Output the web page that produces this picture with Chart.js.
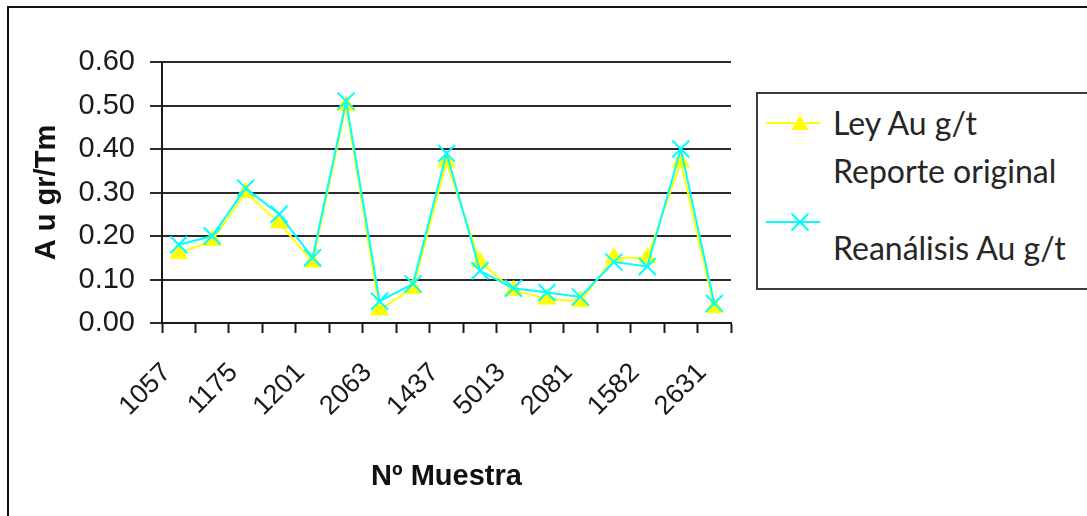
<!DOCTYPE html>
<html>
<head>
<meta charset="utf-8">
<title>Ley Au - Reanálisis</title>
<script src="https://cdn.jsdelivr.net/npm/chart.js@4.4.1/dist/chart.umd.min.js"></script>
<style>
  html, body { margin: 0; padding: 0; background: #fff; overflow: hidden; }
  #stage { position: relative; width: 1087px; height: 516px; overflow: hidden; background: #fff; }
  #frame { position: absolute; left: 7px; top: 6px; width: 1200px; height: 600px; border: 2px solid #111; }
  #plot { position: absolute; left: 0; top: 0; width: 1087px; height: 516px; }
  #key { position: absolute; left: 756px; top: 92px; width: 400px; height: 198px; box-sizing: border-box;
         border: 2px solid #3c3c3c; background: #fff;
         font-family: Lato, "Open Sans", sans-serif; font-size: 32px; color: #262626; }
  #key .lbl { position: absolute; left: 75px; line-height: 48px; white-space: nowrap; }
  #key svg { position: absolute; left: 8px; top: 0; }
</style>
</head>
<body>
<div id="stage">
  <div id="frame"></div>
  <div id="plot"><canvas id="chart"></canvas></div>
  <div id="key"></div>
</div>
<script>
// Sample numbers along the x axis (only every other sample is labelled)
const categories = ['1057', '', '1175', '', '1201', '', '2063', '', '1437', '',
                    '5013', '', '2081', '', '1582', '', '2631'];

// Gold grade, original lab report (g/t)
const leyOriginal = [0.16, 0.19, 0.30, 0.23, 0.14, 0.50, 0.03, 0.08, 0.37, 0.14,
                     0.075, 0.055, 0.05, 0.15, 0.15, 0.37, 0.035];

// Gold grade, re-analysis (g/t)
const reanalisis = [0.18, 0.20, 0.31, 0.25, 0.15, 0.51, 0.05, 0.09, 0.39, 0.12,
                    0.08, 0.07, 0.06, 0.14, 0.13, 0.40, 0.045];

// Legend names, one entry per line of text
const leyName = ['Ley Au g/t', 'Reporte original'];
const reName = ['Reanálisis Au g/t'];

const yMin = 0, yMax = 0.6, yStep = 0.1;
const yTitle = 'A u gr/Tm';
const xTitle = 'Nº Muestra';

const YELLOW = '#FFFF00';
const CYAN = '#00FFFF';
const AXIS_FONT = "'Liberation Sans', Arial, sans-serif";

const chart = new Chart(document.getElementById('chart'), {
  type: 'line',
  data: {
    labels: categories,
    datasets: [
      {
        label: leyName.join(' '),
        data: leyOriginal,
        borderColor: YELLOW,
        backgroundColor: YELLOW,
        borderWidth: 2,
        pointStyle: 'triangle',
        pointRadius: 10,
        pointBorderWidth: 1,
        pointBackgroundColor: YELLOW,
        pointBorderColor: YELLOW,
        tension: 0,
        order: 2
      },
      {
        label: reName.join(' '),
        data: reanalisis,
        borderColor: CYAN,
        backgroundColor: CYAN,
        borderWidth: 2,
        pointStyle: 'crossRot',
        pointRadius: 12,
        pointBorderWidth: 2,
        pointBorderColor: CYAN,
        tension: 0,
        order: 1
      }
    ]
  },
  options: {
    responsive: true,
    maintainAspectRatio: false,
    animation: false,
    devicePixelRatio: 1,
    layout: { padding: { left: 0, top: 62, right: 356, bottom: 0 } },
    plugins: { legend: { display: false }, tooltip: { enabled: false } },
    scales: {
      x: {
        offset: true,
        grid: {
          offset: true,
          drawOnChartArea: false,
          drawTicks: true,
          tickLength: 10,
          tickWidth: 2,
          tickColor: '#1a1a1a'
        },
        border: { display: true, color: '#1a1a1a', width: 2 },
        ticks: {
          autoSkip: false,
          minRotation: 45,
          maxRotation: 45,
          padding: 24,
          labelOffset: -12,
          color: '#1a1a1a',
          font: { family: AXIS_FONT, size: 27 },
          callback: (v, i) => categories[i]
        },
        title: {
          display: true,
          text: xTitle,
          color: '#111',
          font: { family: AXIS_FONT, size: 29, weight: 'bold' },
          padding: { top: 0, bottom: 22 }
        },
        afterFit: (s) => { s.height = 193; }
      },
      y: {
        min: yMin,
        max: yMax,
        grid: {
          color: '#2b2b2b',
          lineWidth: 2,
          tickLength: 12,
          drawTicks: true
        },
        border: { display: true, color: '#1a1a1a', width: 2 },
        ticks: {
          stepSize: yStep,
          padding: 15,
          color: '#1a1a1a',
          font: { family: AXIS_FONT, size: 29 },
          callback: (v) => Number(v).toFixed(2)
        },
        title: {
          display: true,
          text: yTitle,
          color: '#111',
          font: { family: AXIS_FONT, size: 29, weight: 'bold' },
          padding: { top: 30, bottom: 0 }
        },
        afterFit: (s) => { s.width = 162; }
      }
    }
  }
});

// Legend box with line + marker samples taken from the dataset styles
(function buildKey() {
  const key = document.getElementById('key');
  const ds = chart.data.datasets;
  const NS = 'http://www.w3.org/2000/svg';
  const svg = document.createElementNS(NS, 'svg');
  svg.setAttribute('width', '60');
  svg.setAttribute('height', '160');

  function el(name, attrs) {
    const e = document.createElementNS(NS, name);
    for (const k in attrs) e.setAttribute(k, attrs[k]);
    svg.appendChild(e);
  }
  const mx = 34;
  // first entry: yellow line with a filled triangle
  const y1 = 29;
  el('line', { x1: 0, y1: y1, x2: 54, y2: y1, stroke: ds[0].borderColor, 'stroke-width': 2 });
  const r = 10, ty = y1 + 2;
  el('polygon', {
    points: `${mx},${ty - r} ${mx + 0.866 * r},${ty + 0.5 * r} ${mx - 0.866 * r},${ty + 0.5 * r}`,
    fill: ds[0].pointBackgroundColor
  });
  // second entry: cyan line with an x mark
  const y2 = 128, d = 8.5;
  el('line', { x1: 0, y1: y2, x2: 54, y2: y2, stroke: ds[1].borderColor, 'stroke-width': 2 });
  el('path', {
    d: `M${mx - d},${y2 - d} L${mx + d},${y2 + d} M${mx + d},${y2 - d} L${mx - d},${y2 + d}`,
    stroke: ds[1].pointBorderColor, 'stroke-width': 2, fill: 'none'
  });
  key.appendChild(svg);

  function addLabel(lines, top) {
    const div = document.createElement('div');
    div.className = 'lbl';
    div.style.top = top + 'px';
    lines.forEach((t, i) => {
      if (i) div.appendChild(document.createElement('br'));
      div.appendChild(document.createTextNode(t));
    });
    key.appendChild(div);
  }
  addLabel(leyName, 5);
  addLabel(reName, 130);
})();
</script>
</body>
</html>
